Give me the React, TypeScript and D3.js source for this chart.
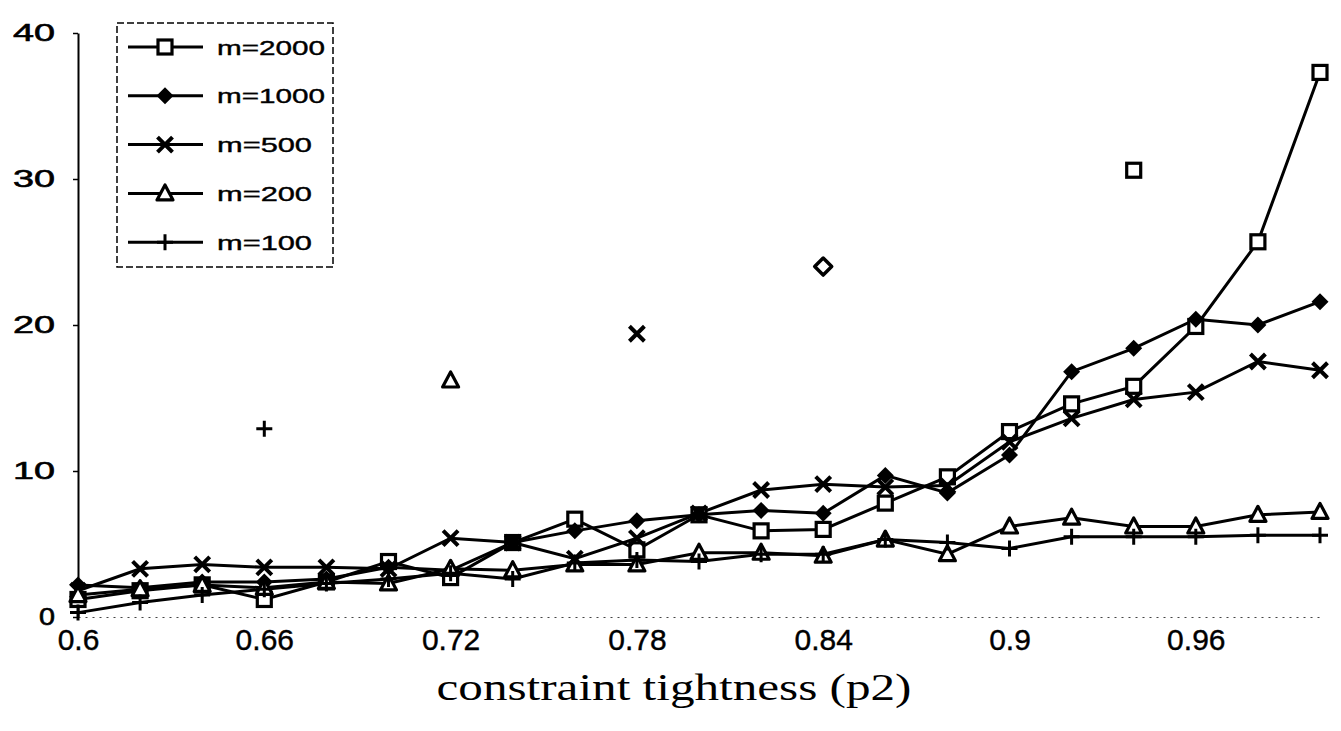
import { useEffect, useRef } from 'react';
import * as d3 from 'd3';

// constraint tightness (p2) on the x axis
const tightness = [
  0.6, 0.62, 0.64, 0.66, 0.68, 0.7, 0.72, 0.74, 0.76, 0.78, 0.8,
  0.82, 0.84, 0.86, 0.88, 0.9, 0.92, 0.94, 0.96, 0.98, 1.0,
];

// values
const m2000 = [1.2, 1.8, 2.2, 1.2, 2.4, 3.8, 2.7, 5.1, 6.7, 4.6, 7.0, 5.9, 6.0, 7.8, 9.6, 12.7, 14.6, 15.8, 19.9, 25.7, 37.3];
const m1000 = [2.2, 2.0, 2.4, 2.4, 2.6, 3.4, 3.2, 5.1, 5.9, 6.6, 7.0, 7.3, 7.1, 9.7, 8.5, 11.1, 16.8, 18.4, 20.4, 20.0, 21.6];
const m500 = [1.8, 3.3, 3.6, 3.4, 3.4, 3.3, 5.4, 5.1, 4.0, 5.4, 7.1, 8.7, 9.1, 8.9, 9.0, 12.0, 13.6, 14.9, 15.4, 17.5, 16.9];
const m200 = [1.5, 1.9, 2.2, 2.0, 2.4, 2.3, 3.3, 3.2, 3.6, 3.6, 4.4, 4.4, 4.2, 5.3, 4.3, 6.2, 6.8, 6.2, 6.2, 7.0, 7.2];
const m100 = [0.3, 1.0, 1.5, 1.9, 2.3, 2.6, 3.0, 2.6, 3.7, 3.9, 3.8, 4.3, 4.3, 5.3, 5.1, 4.7, 5.5, 5.5, 5.5, 5.6, 5.6];

const seriesNames = ['m=2000', 'm=1000', 'm=500', 'm=200', 'm=100'];
const seriesValues = [m2000, m1000, m500, m200, m100];
const markerKinds = ['square', 'diamond', 'cross', 'triangle', 'plus'];

// lone markers drawn without a line (one per series)
const peakTightness = [0.94, 0.84, 0.78, 0.72, 0.66];
const peakValues = [30.6, 24.0, 19.4, 16.2, 12.9];

const xTicks = [0.6, 0.66, 0.72, 0.78, 0.84, 0.9, 0.96];
const yTicks = [0, 10, 20, 30, 40];

type Sel = d3.Selection<SVGGElement, unknown, null, undefined>;

function drawMarker(g: Sel, kind: string, x: number, y: number, hollow = false) {
  const m = g.append('g').attr('transform', `translate(${x},${y})`);
  if (kind === 'square') {
    m.append('rect').attr('x', -7).attr('y', -7).attr('width', 14).attr('height', 14)
      .attr('fill', 'white').attr('stroke', 'black').attr('stroke-width', 3.2);
  } else if (kind === 'diamond') {
    if (hollow) {
      m.append('path').attr('d', 'M0,-8.5L8.5,0L0,8.5L-8.5,0Z').attr('fill', 'white')
        .attr('stroke', 'black').attr('stroke-width', 3.5).attr('stroke-linejoin', 'round');
    } else {
      m.append('path').attr('d', 'M0,-8.5L8.5,0L0,8.5L-8.5,0Z').attr('fill', 'black');
    }
  } else if (kind === 'cross') {
    m.append('path').attr('d', 'M-7.5,-7.5L7.5,7.5M7.5,-7.5L-7.5,7.5').attr('stroke', 'black')
      .attr('stroke-width', 4).attr('fill', 'none');
  } else if (kind === 'triangle') {
    m.append('path').attr('d', 'M0,-8.5L8,6.5L-8,6.5Z').attr('fill', 'white')
      .attr('stroke', 'black').attr('stroke-width', 3.2).attr('stroke-linejoin', 'round');
  } else {
    m.append('path').attr('d', 'M-8,0H8M0,-8V8').attr('stroke', 'black')
      .attr('stroke-width', 3).attr('fill', 'none');
  }
}

export default function App() {
  const svgRef = useRef<SVGSVGElement | null>(null);

  useEffect(() => {
    if (!svgRef.current) return;
    const svg = d3.select(svgRef.current);
    svg.selectAll('*').remove();

    const x = d3.scaleLinear().domain([0.6, 1.0]).range([78, 1320]);
    const y = d3.scaleLinear().domain([0, 40]).range([617, 33]);

    const root = svg.append('g') as unknown as Sel;

    // y axis
    const yAxis = root.append('g').attr('transform', `translate(${x(0.6)},0)`)
      .call(d3.axisLeft(y).tickValues(yTicks).tickSize(5).tickSizeOuter(0).tickPadding(18));
    yAxis.select('.domain').attr('stroke', 'black').attr('stroke-width', 2);
    yAxis.selectAll('.tick line').attr('stroke', 'black').attr('stroke-width', 1.5);
    yAxis.selectAll<SVGTextElement, number>('.tick text')
      .attr('font-family', 'Arial, "Liberation Sans", sans-serif')
      .attr('font-size', 24)
      .attr('fill', 'black')
      .attr('stroke', 'black')
      .attr('stroke-width', 0.6)
      .attr('textLength', d => (d === 0 ? 16 : 42))
      .attr('lengthAdjust', 'spacingAndGlyphs');

    // x axis (faint dotted baseline)
    const xAxis = root.append('g').attr('transform', `translate(0,${y(0)})`)
      .call(d3.axisBottom(x).tickValues(xTicks).tickSize(0).tickPadding(12)
        .tickFormat(d => String(d)));
    xAxis.select('.domain').attr('stroke', '#444').attr('stroke-width', 1.2)
      .attr('stroke-dasharray', '2,5');
    xAxis.selectAll('.tick text')
      .attr('font-family', 'Arial, "Liberation Sans", sans-serif')
      .attr('font-size', 30)
      .attr('fill', 'black')
      .attr('stroke', 'black')
      .attr('stroke-width', 0.4);

    // x axis title
    root.append('text')
      .attr('x', 674)
      .attr('y', 700)
      .attr('text-anchor', 'middle')
      .attr('font-family', '"Times New Roman", "Liberation Serif", serif')
      .attr('font-size', 38)
      .attr('textLength', 475)
      .attr('lengthAdjust', 'spacingAndGlyphs')
      .attr('fill', 'black')
      .text('constraint tightness (p2)');

    // series lines
    const line = d3.line<number>()
      .x((_, i) => x(tightness[i]))
      .y(d => y(d));

    seriesValues.forEach(vals => {
      root.append('path')
        .datum(vals)
        .attr('fill', 'none')
        .attr('stroke', 'black')
        .attr('stroke-width', 3)
        .attr('d', line);
    });

    // markers
    seriesValues.forEach((vals, si) => {
      const g = root.append('g') as unknown as Sel;
      vals.forEach((v, i) => drawMarker(g, markerKinds[si], x(tightness[i]), y(v)));
    });

    // lone peak markers
    const pg = root.append('g') as unknown as Sel;
    peakValues.forEach((v, i) => drawMarker(pg, markerKinds[i], x(peakTightness[i]), y(v), true));

    // legend
    const legend = root.append('g');
    legend.append('rect')
      .attr('x', 117).attr('y', 23).attr('width', 216).attr('height', 244)
      .attr('fill', 'white').attr('stroke', 'black').attr('stroke-width', 1.5)
      .attr('stroke-dasharray', '7,3');
    const textWidths = [108, 108, 95, 95, 95];
    seriesNames.forEach((name, i) => {
      const cy = 47 + i * 48.8;
      legend.append('line')
        .attr('x1', 128).attr('x2', 203).attr('y1', cy).attr('y2', cy)
        .attr('stroke', 'black').attr('stroke-width', 3);
      drawMarker(legend as unknown as Sel, markerKinds[i], 165, cy);
      legend.append('text')
        .attr('x', 217).attr('y', cy + 7.5)
        .attr('font-family', 'Arial, "Liberation Sans", sans-serif')
        .attr('font-size', 21)
        .attr('fill', 'black')
        .attr('stroke', 'black')
        .attr('stroke-width', 0.4)
        .attr('textLength', textWidths[i])
        .attr('lengthAdjust', 'spacingAndGlyphs')
        .text(name);
    });
  }, []);

  return (
    <svg
      ref={svgRef}
      width={1341}
      height={731}
      style={{ position: 'absolute', left: 0, top: 0, background: 'white' }}
    />
  );
}
